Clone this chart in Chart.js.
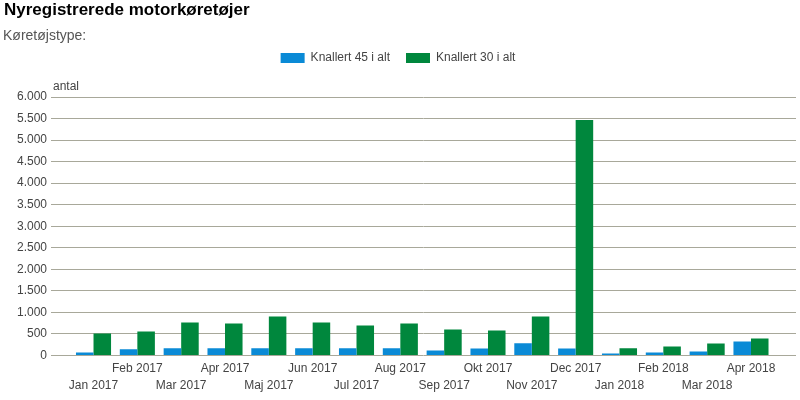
<!DOCTYPE html>
<html>
<head>
<meta charset="utf-8">
<script src="https://cdn.jsdelivr.net/npm/chart.js@4"></script>
<style>
  html, body { margin: 0; padding: 0; background: #fff; }
  #wrap { position: relative; width: 800px; height: 400px; overflow: hidden; font-family: "Liberation Sans", Arial, sans-serif; }
  #title { position: absolute; left: 4px; top: 0px; font-size: 17px; font-weight: bold; color: #000; line-height: 20px; }
  #sub { position: absolute; left: 3px; top: 26px; font-size: 14px; color: #555; line-height: 18px; }
  canvas { position: absolute; left: 0; top: 0; }
</style>
</head>
<body>
<div id="wrap">
  <canvas id="c" width="800" height="400"></canvas>
  <div id="title">Nyregistrerede motorkøretøjer</div>
  <div id="sub">Køretøjstype:</div>
</div>
<script>
const months = ["Jan 2017","Feb 2017","Mar 2017","Apr 2017","Maj 2017","Jun 2017","Jul 2017","Aug 2017","Sep 2017","Okt 2017","Nov 2017","Dec 2017","Jan 2018","Feb 2018","Mar 2018","Apr 2018"];
const knallert45 = [70, 140, 165, 165, 165, 165, 165, 165, 115, 160, 280, 160, 45, 70, 92, 325];
const knallert30 = [510, 556, 764, 741, 905, 764, 695, 741, 602, 579, 905, 5465, 165, 208, 278, 395];
const yTicks = [0, 500, 1000, 1500, 2000, 2500, 3000, 3500, 4000, 4500, 5000, 5500, 6000];
const seriesNames = ["Knallert 45 i alt", "Knallert 30 i alt"];
const yAxisLabel = "antal";

function fmt(v) {
  return String(v).replace(/\B(?=(\d{3})+(?!\d))/g, ".");
}

const FONT = "'Liberation Sans', Arial, sans-serif";
const TEXT = "#444";

const legendSpace = {
  id: 'legendSpace',
  beforeUpdate(chart) {
    const lg = chart.legend;
    if (lg && !lg._patched) {
      const orig = lg.fit;
      lg.fit = function () { orig.call(this); this.height += 23; };
      lg._patched = true;
    }
  }
};

const axisLabel = {
  id: 'axisLabel',
  afterDraw(chart) {
    const ctx = chart.ctx;
    const a = chart.chartArea;
    ctx.save();
    ctx.font = "12px " + FONT;
    ctx.fillStyle = TEXT;
    ctx.textAlign = 'left';
    ctx.textBaseline = 'alphabetic';
    ctx.fillText(yAxisLabel, a.left + 2, a.top - 7);
    ctx.restore();
  }
};

new Chart(document.getElementById('c'), {
  type: 'bar',
  data: {
    datasets: [
      { label: seriesNames[0], data: knallert45.map((v, i) => ({ x: i, y: v })), backgroundColor: '#0a8ad6' },
      { label: seriesNames[1], data: knallert30.map((v, i) => ({ x: i, y: v })), backgroundColor: '#00873d' }
    ]
  },
  options: {
    responsive: false,
    animation: false,
    categoryPercentage: 0.8,
    barPercentage: 1.0,
    layout: { padding: { top: 36, right: 4, bottom: 1, left: 0 } },
    plugins: {
      tooltip: { enabled: false },
      legend: {
        position: 'top',
        labels: { boxWidth: 24, boxHeight: 10, padding: 16, color: TEXT, font: { family: FONT, size: 12 } }
      }
    },
    scales: {
      x: {
        type: 'linear',
        offset: false,
        bounds: 'data',
        min: -0.97,
        max: 16.027,
        grid: { display: false, drawTicks: false, offset: false },
        border: { display: false },
        afterBuildTicks(scale) {
          scale.ticks = months.map((m, i) => ({ value: i }));
        },
        ticks: {
          autoSkip: false,
          maxRotation: 0,
          minRotation: 0,
          padding: 5,
          includeBounds: false,
          color: TEXT,
          font: { family: FONT, size: 12, lineHeight: 1.4 },
          callback(v) {
            const i = Math.round(v);
            const m = months[i];
            if (m === undefined) return '';
            return i % 2 === 0 ? ['', m] : [m, ''];
          }
        }
      },
      y: {
        min: 0,
        max: 6000,
        afterBuildTicks(scale) {
          scale.ticks = yTicks.map(v => ({ value: v }));
        },
        afterFit(scale) { scale.width = 51; },
        grid: { color: '#a8a89a', drawTicks: false, lineWidth: 1 },
        border: { display: false },
        ticks: {
          padding: 4,
          color: TEXT,
          font: { family: FONT, size: 12 },
          callback: v => fmt(v)
        }
      }
    }
  },
  plugins: [legendSpace, axisLabel]
});
</script>
</body>
</html>
